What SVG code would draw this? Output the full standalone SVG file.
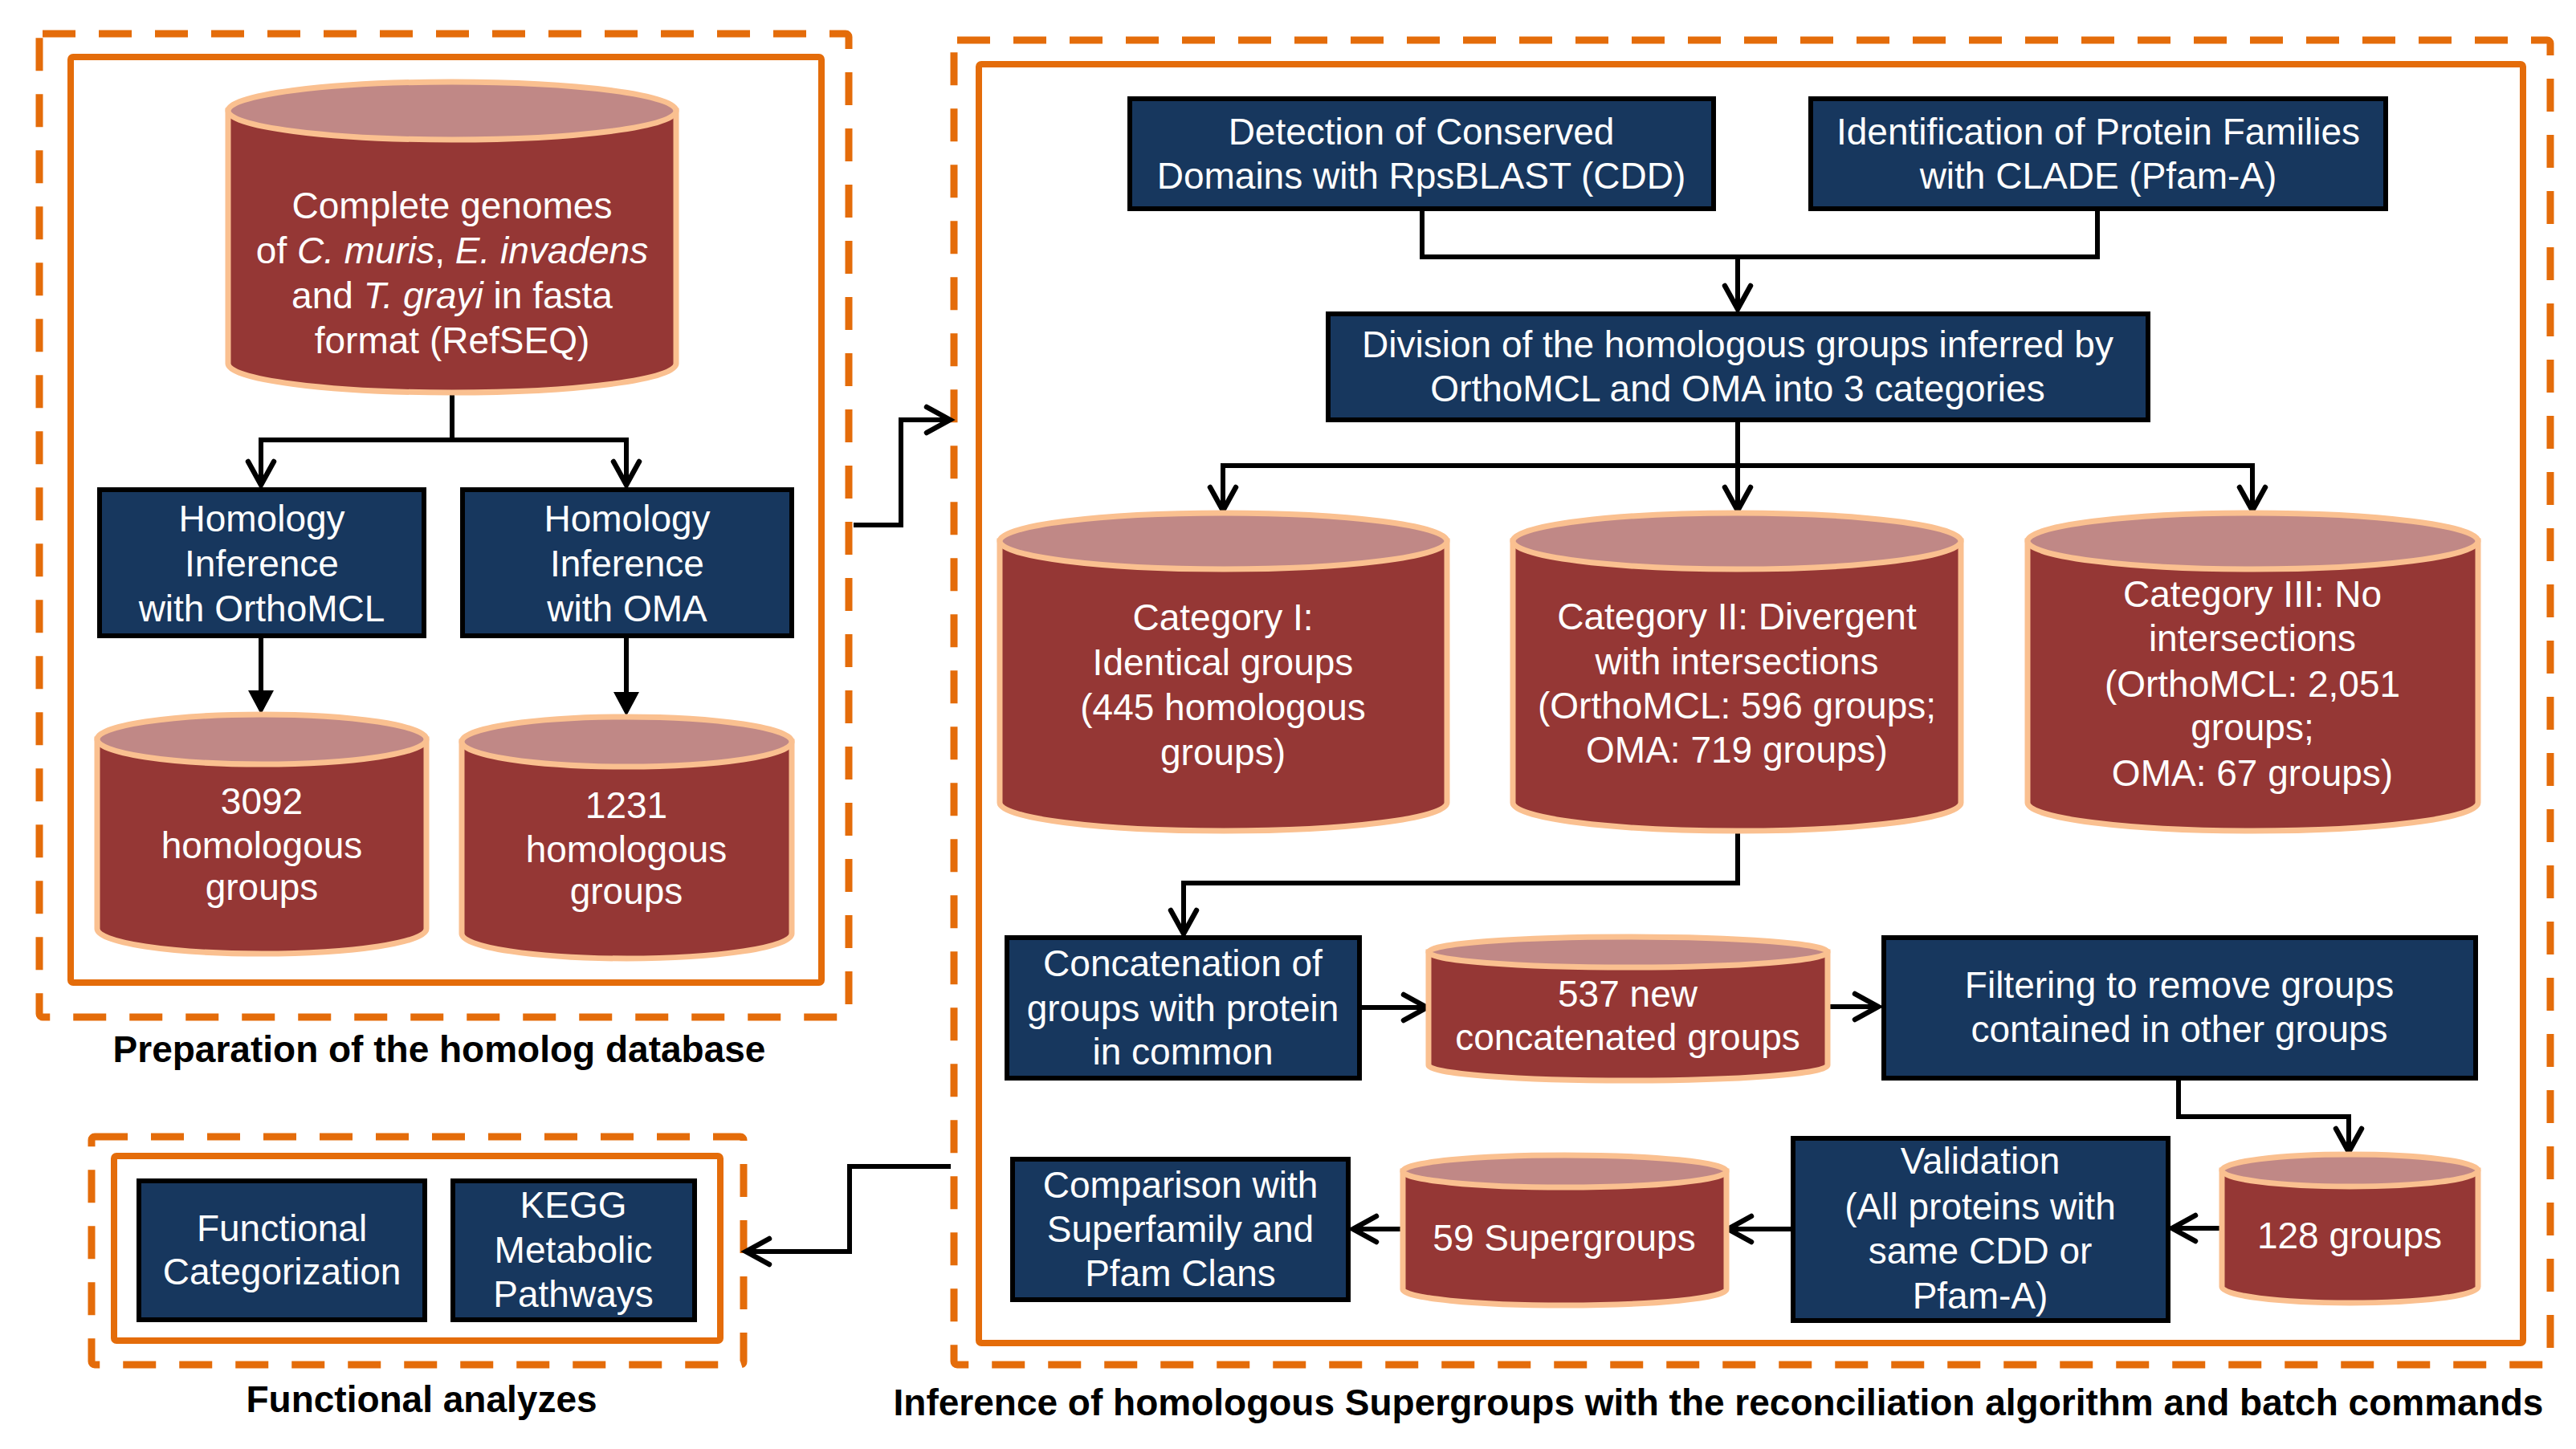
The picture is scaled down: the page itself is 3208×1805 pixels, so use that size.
<svg xmlns="http://www.w3.org/2000/svg" width="3208" height="1805" viewBox="0 0 3208 1805">
<style>
.dash{fill:none;stroke:#E46C0A;stroke-width:9;stroke-dasharray:41 29}
.frame{fill:#fff;stroke:#E46C0A;stroke-width:8}
.box{fill:#17375E;stroke:#000;stroke-width:6}
.body{fill:#953735;stroke:#FAC090;stroke-width:7}
.top{fill:#C08886;stroke:#FAC090;stroke-width:7}
.t{font-family:"Liberation Sans",Arial,sans-serif;font-size:46px;fill:#fff;text-anchor:middle}
.lbl{font-family:"Liberation Sans",Arial,sans-serif;font-size:46px;font-weight:bold;fill:#000;text-anchor:middle}
.c{fill:none;stroke:#000;stroke-width:6;stroke-linejoin:miter}
.o{marker-end:url(#open)}
.f{marker-end:url(#filled)}
</style>
<defs>
<marker id="open" markerUnits="userSpaceOnUse" markerWidth="50" markerHeight="50" viewBox="-40 -25 50 50" refX="0" refY="0" orient="auto">
<path d="M-29,-16 L0,0 L-29,16" fill="none" stroke="#000" stroke-width="6.5" stroke-linecap="round" stroke-linejoin="miter"/>
</marker>
<marker id="filled" markerUnits="userSpaceOnUse" markerWidth="50" markerHeight="50" viewBox="-30 -25 50 50" refX="0" refY="0" orient="auto">
<path d="M-20,-16 L10,0 L-20,16 Z" fill="#000"/>
</marker>
</defs>

<!-- section frames -->
<g id="sec-prep">
<rect class="dash" x="49" y="42" width="1008" height="1225" rx="4"/>
<rect class="frame" x="88" y="71" width="935" height="1153" rx="3"/>
<text class="lbl" x="547" y="1323">Preparation of the homolog database</text>
</g>
<g id="sec-func">
<rect class="dash" x="114" y="1416" width="812" height="284" rx="4"/>
<rect class="frame" x="142" y="1440" width="755" height="230" rx="3"/>
<text class="lbl" x="525" y="1759">Functional analyzes</text>
</g>
<g id="sec-infer">
<rect class="dash" x="1188" y="50" width="1988" height="1650" rx="4"/>
<rect class="frame" x="1219" y="80" width="1923" height="1593" rx="3"/>
<text class="lbl" x="2140" y="1763">Inference of homologous Supergroups with the reconciliation algorithm and batch commands</text>
</g>

<!-- connectors -->
<g id="connectors">
<path class="c o" d="M563,489 V548 H325 V604"/>
<path class="c o" d="M563,548 H780 V604"/>
<path class="c f" d="M325,795 V880"/>
<path class="c f" d="M780,795 V882"/>
<path class="c o" d="M1063,654 H1122 V523 H1183"/>
<path class="c o" d="M1184,1453 H1058 V1559 H929"/>
<path class="c o" d="M1771,263 V320 H2164 V385"/>
<path class="c" d="M2612,263 V320 H2164"/>
<path class="c o" d="M2164,526 V636"/>
<path class="c o" d="M2164,580 H1523 V636"/>
<path class="c o" d="M2164,580 H2805 V636"/>
<path class="c o" d="M2164,1035 V1100 H1474 V1163"/>
<path class="c o" d="M1696,1255 H1777"/>
<path class="c o" d="M2276,1254 H2339"/>
<path class="c o" d="M2713,1346 V1391 H2925 V1435"/>
<path class="c o" d="M2767,1530 H2705"/>
<path class="c o" d="M2230,1531 H2152"/>
<path class="c o" d="M1747,1531 H1685"/>
</g>

<!-- nodes -->
<g id="genomes">
<path class="body" d="M284,138 V453 A279,36 0 0 0 842,453 V138 Z"/>
<ellipse class="top" cx="563" cy="138" rx="279" ry="36"/>
<text class="t" x="563" y="272">Complete genomes</text>
<text class="t" x="563" y="328">of <tspan font-style="italic">C. muris</tspan>, <tspan font-style="italic">E. invadens</tspan></text>
<text class="t" x="563" y="384">and <tspan font-style="italic">T. grayi</tspan> in fasta</text>
<text class="t" x="563" y="440">format (RefSEQ)</text>
</g>
<g id="orthomcl">
<rect class="box" x="124" y="610" width="404" height="182"/>
<text class="t" x="326" y="662">Homology</text>
<text class="t" x="326" y="718">Inference</text>
<text class="t" x="326" y="774">with OrthoMCL</text>
</g>
<g id="oma">
<rect class="box" x="576" y="610" width="410" height="182"/>
<text class="t" x="781" y="662">Homology</text>
<text class="t" x="781" y="718">Inference</text>
<text class="t" x="781" y="774">with OMA</text>
</g>
<g id="groups3092">
<path class="body" d="M121,921 V1157 A205,31 0 0 0 531,1157 V921 Z"/>
<ellipse class="top" cx="326" cy="921" rx="205" ry="31"/>
<text class="t" x="326" y="1014">3092</text>
<text class="t" x="326" y="1069">homologous</text>
<text class="t" x="326" y="1121">groups</text>
</g>
<g id="groups1231">
<path class="body" d="M575,924 V1163 A205.5,31 0 0 0 986,1163 V924 Z"/>
<ellipse class="top" cx="780.5" cy="924" rx="205.5" ry="31"/>
<text class="t" x="780" y="1019">1231</text>
<text class="t" x="780" y="1074">homologous</text>
<text class="t" x="780" y="1126">groups</text>
</g>
<g id="funccat">
<rect class="box" x="173" y="1471" width="356" height="173"/>
<text class="t" x="351" y="1546">Functional</text>
<text class="t" x="351" y="1600">Categorization</text>
</g>
<g id="kegg">
<rect class="box" x="564" y="1471" width="301" height="173"/>
<text class="t" x="714" y="1517">KEGG</text>
<text class="t" x="714" y="1573">Metabolic</text>
<text class="t" x="714" y="1628">Pathways</text>
</g>
<g id="cdd">
<rect class="box" x="1407" y="123" width="727" height="137"/>
<text class="t" x="1770" y="180">Detection of Conserved</text>
<text class="t" x="1770" y="235">Domains with RpsBLAST (CDD)</text>
</g>
<g id="clade">
<rect class="box" x="2255" y="123" width="716" height="137"/>
<text class="t" x="2613" y="180">Identification of Protein Families</text>
<text class="t" x="2613" y="235">with CLADE (Pfam-A)</text>
</g>
<g id="division">
<rect class="box" x="1654" y="391" width="1021" height="132"/>
<text class="t" x="2164" y="445">Division of the homologous groups inferred by</text>
<text class="t" x="2164" y="500">OrthoMCL and OMA into 3 categories</text>
</g>
<g id="cat1">
<path class="body" d="M1245,674 V1000 A278.5,35 0 0 0 1802,1000 V674 Z"/>
<ellipse class="top" cx="1523.5" cy="674" rx="278.5" ry="35"/>
<text class="t" x="1523" y="785">Category I:</text>
<text class="t" x="1523" y="841">Identical groups</text>
<text class="t" x="1523" y="897">(445 homologous</text>
<text class="t" x="1523" y="953">groups)</text>
</g>
<g id="cat2">
<path class="body" d="M1884,674 V1000 A279,35 0 0 0 2442,1000 V674 Z"/>
<ellipse class="top" cx="2163" cy="674" rx="279" ry="35"/>
<text class="t" x="2163" y="784">Category II: Divergent</text>
<text class="t" x="2163" y="840">with intersections</text>
<text class="t" x="2163" y="895">(OrthoMCL: 596 groups;</text>
<text class="t" x="2163" y="950">OMA: 719 groups)</text>
</g>
<g id="cat3">
<path class="body" d="M2525,674 V1000 A280.5,35 0 0 0 3086,1000 V674 Z"/>
<ellipse class="top" cx="2805.5" cy="674" rx="280.5" ry="35"/>
<text class="t" x="2805" y="756">Category III: No</text>
<text class="t" x="2805" y="811">intersections</text>
<text class="t" x="2805" y="868">(OrthoMCL: 2,051</text>
<text class="t" x="2805" y="922">groups;</text>
<text class="t" x="2805" y="979">OMA: 67 groups)</text>
</g>
<g id="concat">
<rect class="box" x="1254" y="1168" width="439" height="175"/>
<text class="t" x="1473" y="1216">Concatenation of</text>
<text class="t" x="1473" y="1272">groups with protein</text>
<text class="t" x="1473" y="1326">in common</text>
</g>
<g id="new537">
<path class="body" d="M1779,1186 V1327 A248.5,19 0 0 0 2276,1327 V1186 Z"/>
<ellipse class="top" cx="2027.5" cy="1186" rx="248.5" ry="19"/>
<text class="t" x="2027" y="1254">537 new</text>
<text class="t" x="2027" y="1308">concatenated groups</text>
</g>
<g id="filtering">
<rect class="box" x="2346" y="1168" width="737" height="175"/>
<text class="t" x="2714" y="1243">Filtering to remove groups</text>
<text class="t" x="2714" y="1298">contained in other groups</text>
</g>
<g id="g128">
<path class="body" d="M2767,1458 V1603 A159.5,20 0 0 0 3086,1603 V1458 Z"/>
<ellipse class="top" cx="2926.5" cy="1458" rx="159.5" ry="20"/>
<text class="t" x="2926" y="1555">128 groups</text>
</g>
<g id="validation">
<rect class="box" x="2233" y="1418" width="467" height="227"/>
<text class="t" x="2466" y="1462">Validation</text>
<text class="t" x="2466" y="1519">(All proteins with</text>
<text class="t" x="2466" y="1574">same CDD or</text>
<text class="t" x="2466" y="1630">Pfam-A)</text>
</g>
<g id="super59">
<path class="body" d="M1747,1459 V1606 A201.5,20 0 0 0 2150,1606 V1459 Z"/>
<ellipse class="top" cx="1948.5" cy="1459" rx="201.5" ry="20"/>
<text class="t" x="1948" y="1558">59 Supergroups</text>
</g>
<g id="comparison">
<rect class="box" x="1261" y="1444" width="418" height="175"/>
<text class="t" x="1470" y="1492">Comparison with</text>
<text class="t" x="1470" y="1547">Superfamily and</text>
<text class="t" x="1470" y="1602">Pfam Clans</text>
</g>
</svg>
